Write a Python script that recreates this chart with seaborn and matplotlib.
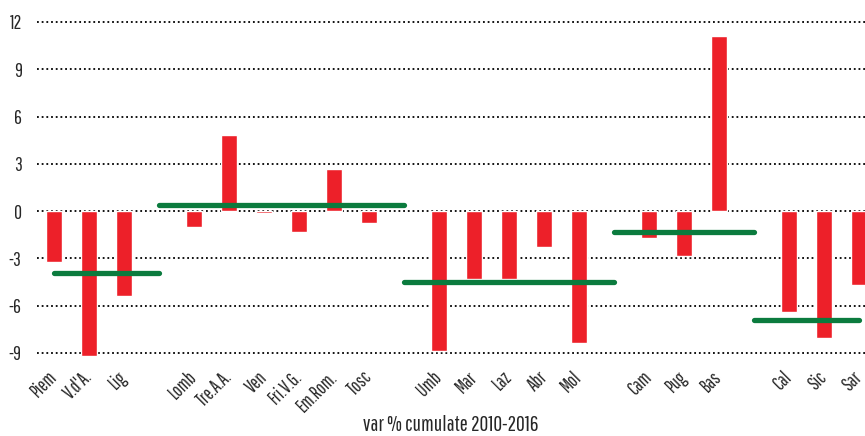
import numpy as np
import pandas as pd
import seaborn as sns
import matplotlib.pyplot as plt
from matplotlib.transforms import ScaledTranslation

# regions in display order, None marks the gap between macro-areas
labels = ["Piem", "V.d'A.", "Lig", None,
          "Lomb", "Tre.A.A.", "Ven", "Fri.V.G.", "Em.Rom.", "Tosc", None,
          "Umb", "Mar", "Laz", "Abr", "Mol", None,
          "Cam", "Pug", "Bas", None,
          "Cal", "Sic", "Sar"]
values = [-3.2, -9.2, -5.4, None,
          -1.0, 4.8, -0.1, -1.3, 2.7, -0.75, None,
          -8.9, -4.3, -4.3, -2.25, -8.35, None,
          -1.7, -2.85, 11.1, None,
          -6.4, -8.05, -4.7]
# macro-area averages (green lines)
area_means = [-3.9, 0.38, -4.48, -1.33, -6.94]
yticks = [-9, -6, -3, 0, 3, 6, 9, 12]

RED = '#ED2029'
GREEN = '#0B7B3E'

sns.set_theme(style='white')
plt.rcParams['font.family'] = ['Pathway Gothic One', 'DejaVu Sans']

# unique keys so gaps keep their own slot
keys = [l if l is not None else ' ' * (i + 1) for i, l in enumerate(labels)]
frame = pd.DataFrame({'region': keys, 'var': [np.nan if v is None else v for v in values]})

fig = plt.figure(figsize=(8.65, 4.36), dpi=100)
ax = fig.add_axes([0.0428, 0.1796, 0.9572, 0.7773])

sns.barplot(data=frame, x='region', y='var', order=keys, color=RED,
            width=0.45, saturation=1, ax=ax, zorder=2)

# green lines: from gap to gap across each macro-area
gaps = [i for i, l in enumerate(labels) if l is None]
bounds = [0] + gaps + [len(labels) - 1]
for k, m in enumerate(area_means):
    ax.plot([bounds[k], bounds[k + 1]], [m, m], color=GREEN, lw=3.8,
            solid_capstyle='round', zorder=3)

ax.set_xlim(-0.486, 23.17)
ax.set_ylim(-9.3, 12.2)
ax.set_yticks(yticks)
ax.set_yticklabels([str(t) for t in yticks], fontsize=14)
ax.set_xticks(range(len(labels)))
ax.set_xticklabels([l if l is not None else '' for l in labels], fontsize=13.5,
                   rotation=45, ha='right', va='center', rotation_mode='anchor')
shift = ScaledTranslation(0.04, 0, fig.dpi_scale_trans)
for t in ax.get_xticklabels():
    t.set_transform(t.get_transform() + shift)
ax.tick_params(axis='y', length=0, pad=11)
ax.tick_params(axis='x', length=0, pad=12)
ax.yaxis.grid(True, color='black', linestyle=(0, (1, 1.6)), linewidth=1.3)
ax.set_axisbelow(True)
for s in ax.spines.values():
    s.set_visible(False)
ax.set_ylabel('')
ax.set_xlabel('var % cumulate 2010-2016', fontsize=15.5)
ax.xaxis.set_label_coords(0.5, -0.1986)
ax.xaxis.label.set_va('center')

fig.savefig('out.png', dpi=100)
